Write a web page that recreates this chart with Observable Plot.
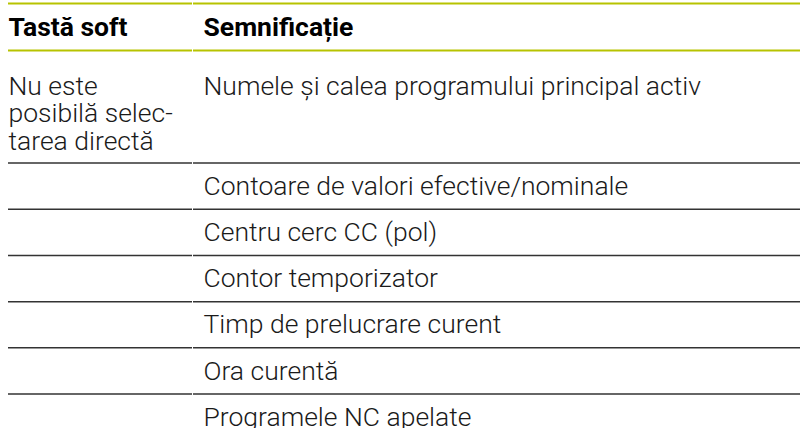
<!DOCTYPE html>
<html><head><meta charset="utf-8">
<script src="https://cdn.jsdelivr.net/npm/d3@7"></script>
<script src="https://cdn.jsdelivr.net/npm/@observablehq/plot@0.6"></script>
<style>body{margin:0;background:#fff}svg{display:block}</style>
</head><body><div id="chart"></div>
<script>
// ---- content ----
const headers = ["Tastă soft", "Semnificație"];
const softkeys = ["Nu este\nposibilă selec-\ntarea directă", "", "", "", "", "", ""];
const meanings = [
  "Numele și calea programului principal activ",
  "Contoare de valori efective/nominale",
  "Centru cerc CC (pol)",
  "Contor temporizator",
  "Timp de prelucrare curent",
  "Ora curentă",
  "Programele NC apelate"
];

// ---- layout ----
const W = 800, H = 428;
const colLeft = [8, 193], colRight = [192, 800], textX = [8, 203];
const fontSize = 26.5, lineH = 27.5, capH = 0.711 * fontSize;
const tableTop = 3, headerBottom = 50, rowH = 46.2;
const firstPadTop = 24.5, padBottom = 14.2, singleShift = -1.5;

const rows = meanings.map((m, i) => ({key: softkeys[i], meaning: m, lines: Math.max(softkeys[i].split("\n").length, 1)}));
let yCur = headerBottom;
rows.forEach((r, i) => {
  r.top = yCur;
  if (r.lines > 1) {
    r.capTop = yCur + firstPadTop;
    r.bottom = r.capTop + capH + (r.lines - 1) * lineH + padBottom;
  } else {
    r.capTop = yCur + (rowH - capH) / 2 + singleShift;
    r.bottom = yCur + rowH;
  }
  yCur = r.bottom;
});

const rules = [];
[tableTop, headerBottom].forEach(y => [0, 1].forEach(c => rules.push({y, x1: colLeft[c], x2: colRight[c], kind: "head"})));
rows.forEach(r => [0, 1].forEach(c => rules.push({y: r.bottom, x1: colLeft[c], x2: colRight[c], kind: "body"})));

const headerCells = headers.map((h, c) => ({text: h, x: textX[c], y: tableTop + (headerBottom - tableTop - capH) / 2}));
const bodyCells = [];
rows.forEach(r => {
  if (r.key) bodyCells.push({text: r.key, x: textX[0], y: r.capTop});
  bodyCells.push({text: r.meaning, x: textX[1], y: r.capTop});
});

const chart = Plot.plot({
  width: W, height: H, margin: 0,
  x: {domain: [0, W], range: [0, W], axis: null},
  y: {domain: [0, H], range: [0, H], axis: null},
  style: {fontFamily: "Roboto, sans-serif", background: "#fff"},
  marks: [
    Plot.ruleY(rules.filter(d => d.kind === "head"), {y: "y", x1: "x1", x2: "x2", stroke: "#b7c300", strokeWidth: 2.2}),
    Plot.ruleY(rules.filter(d => d.kind === "body"), {y: "y", x1: "x1", x2: "x2", stroke: "#333333", strokeWidth: 1.5}),
    Plot.text(headerCells, {x: "x", y: "y", text: "text", textAnchor: "start", lineAnchor: "top", fontSize, fontWeight: 700, fill: "#000"}),
    Plot.text(bodyCells, {x: "x", y: "y", text: "text", textAnchor: "start", lineAnchor: "top", fontSize, fontWeight: 300, fill: "#1a1a1a", lineHeight: lineH / fontSize})
  ]
});
document.getElementById("chart").append(chart);
</script>
</body></html>
